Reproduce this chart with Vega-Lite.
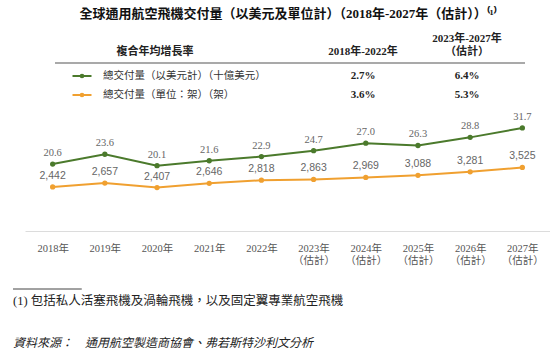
{
  "$schema": "https://vega.github.io/schema/vega-lite/v6.json",
  "padding": {"top": 8, "left": 0, "right": 0, "bottom": 0},
  "background": "white",
  "title": {
    "text": "全球通用航空飛機交付量（以美元及單位計）（2018年-2027年（估計））⁽¹⁾",
    "font": "Liberation Serif, Noto Sans CJK TC",
    "fontSize": 13,
    "fontWeight": "bold",
    "color": "#111",
    "anchor": "middle",
    "dx": 13,
    "offset": 11
  },
  "datasets": {
    "header": [
      {"row": "h", "col": "label", "line": 2, "text": "複合年均增長率"},
      {"row": "h", "col": "c1", "line": 2, "text": "2018年-2022年"},
      {"row": "h", "col": "c2", "line": 1, "text": "2023年-2027年"},
      {"row": "h", "col": "c2", "line": 2, "text": "（估計）"}
    ],
    "cagr": [
      {"row": "r1", "series": "value", "name": "總交付量（以美元計）（十億美元）", "c1": "2.7%", "c2": "6.4%"},
      {"row": "r2", "series": "units", "name": "總交付量（單位：架）（架）", "c1": "3.6%", "c2": "5.3%"}
    ],
    "deliveries": [
      {"year": "2018", "value_bn": 20.6, "units": 2442},
      {"year": "2019", "value_bn": 23.6, "units": 2657},
      {"year": "2020", "value_bn": 20.1, "units": 2407},
      {"year": "2021", "value_bn": 21.6, "units": 2646},
      {"year": "2022", "value_bn": 22.9, "units": 2818},
      {"year": "2023", "value_bn": 24.7, "units": 2863},
      {"year": "2024", "value_bn": 27.0, "units": 2969},
      {"year": "2025", "value_bn": 26.3, "units": 3088},
      {"year": "2026", "value_bn": 28.8, "units": 3281},
      {"year": "2027", "value_bn": 31.7, "units": 3525}
    ],
    "notes": [
      {"row": "note", "text": "(1)   包括私人活塞飛機及渦輪飛機，以及固定翼專業航空飛機"},
      {"row": "source", "text": "資料來源：　通用航空製造商協會、弗若斯特沙利文分析"}
    ]
  },
  "bounds": "flush",
  "spacing": 8,
  "vconcat": [
    {
      "width": 550,
      "height": 72,
      "encoding": {
        "y": {"field": "row", "type": "nominal", "scale": {"type": "point", "domain": ["h", "r1", "r2"], "range": [25, 63], "padding": 0}, "axis": null}
      },
      "layer": [
        {
          "data": {"values": [{"row": "h"}]},
          "mark": {"type": "rule", "color": "#555", "strokeWidth": 1.2, "yOffset": 6},
          "encoding": {
            "x": {"datum": 0, "type": "quantitative", "scale": {"domain": [0, 1], "range": [55, 525], "nice": false, "zero": false}, "axis": null},
            "x2": {"datum": 1}
          }
        },
        {
          "data": {"name": "header"},
          "transform": [{"filter": "datum.line === 2"}],
          "mark": {"type": "text", "baseline": "bottom", "fontWeight": "bold", "fontSize": 11, "font": "Liberation Serif, Noto Sans CJK TC", "color": "#222"},
          "encoding": {
            "x": {"field": "col", "type": "nominal", "scale": {"type": "point", "domain": ["label", "gap", "c1", "c2"], "range": [155, 467], "padding": 0}, "axis": null},
            "text": {"field": "text"}
          }
        },
        {
          "data": {"name": "header"},
          "transform": [{"filter": "datum.line === 1"}],
          "mark": {"type": "text", "baseline": "bottom", "dy": -13, "fontWeight": "bold", "fontSize": 11, "font": "Liberation Serif, Noto Sans CJK TC", "color": "#222"},
          "encoding": {
            "x": {"field": "col", "type": "nominal", "scale": {"type": "point", "domain": ["label", "gap", "c1", "c2"], "range": [155, 467], "padding": 0}, "axis": null},
            "text": {"field": "text"}
          }
        },
        {
          "data": {"name": "cagr"},
          "mark": {"type": "point", "shape": "M-1,0L1,0", "size": 361, "strokeWidth": 2, "filled": false, "opacity": 1, "xOffset": -73},
          "encoding": {
            "x": {"datum": "label", "type": "nominal", "scale": {"type": "point", "domain": ["label", "gap", "c1", "c2"], "range": [155, 467], "padding": 0}, "axis": null},
            "color": {"field": "series", "type": "nominal", "scale": {"domain": ["value", "units"], "range": ["#4b7a2c", "#f0a030"]}, "legend": null}
          }
        },
        {
          "data": {"name": "cagr"},
          "mark": {"type": "point", "shape": "circle", "size": 22, "filled": true, "opacity": 1, "xOffset": -73},
          "encoding": {
            "x": {"datum": "label", "type": "nominal", "scale": {"type": "point", "domain": ["label", "gap", "c1", "c2"], "range": [155, 467], "padding": 0}, "axis": null},
            "color": {"field": "series", "type": "nominal", "scale": {"domain": ["value", "units"], "range": ["#4b7a2c", "#f0a030"]}, "legend": null}
          }
        },
        {
          "data": {"name": "cagr"},
          "mark": {"type": "text", "align": "left", "dx": -52, "baseline": "middle", "fontSize": 10.5, "font": "Noto Sans CJK TC", "color": "#333"},
          "encoding": {
            "x": {"datum": "label", "type": "nominal", "scale": {"type": "point", "domain": ["label", "gap", "c1", "c2"], "range": [155, 467], "padding": 0}, "axis": null},
            "text": {"field": "name"}
          }
        },
        {
          "data": {"name": "cagr"},
          "mark": {"type": "text", "baseline": "middle", "fontSize": 11, "fontWeight": "bold", "font": "Liberation Serif", "color": "#222"},
          "encoding": {
            "x": {"datum": "c1", "type": "nominal", "scale": {"type": "point", "domain": ["label", "gap", "c1", "c2"], "range": [155, 467], "padding": 0}, "axis": null},
            "text": {"field": "c1"}
          }
        },
        {
          "data": {"name": "cagr"},
          "mark": {"type": "text", "baseline": "middle", "fontSize": 11, "fontWeight": "bold", "font": "Liberation Serif", "color": "#222"},
          "encoding": {
            "x": {"datum": "c2", "type": "nominal", "scale": {"type": "point", "domain": ["label", "gap", "c1", "c2"], "range": [155, 467], "padding": 0}, "axis": null},
            "text": {"field": "c2"}
          }
        }
      ],
      "resolve": {"scale": {"x": "independent"}}
    },
    {
      "width": 550,
      "height": 119,
      "data": {"name": "deliveries"},
      "encoding": {
        "x": {
          "field": "year",
          "type": "ordinal",
          "scale": {"type": "point", "domain": ["2018", "2019", "2020", "2021", "2022", "2023", "2024", "2025", "2026", "2027"], "range": [25, 550], "padding": 0.53},
          "axis": {
            "title": null,
            "domain": true,
            "domainColor": "#dcdcdc",
            "domainWidth": 1,
            "ticks": false,
            "grid": false,
            "labelAngle": 0,
            "labelExpr": "toNumber(datum.value) >= 2023 ? [datum.label + '年', '（估計）'] : datum.label + '年'",
            "labelFont": "Liberation Serif, Noto Sans CJK TC",
            "labelFontSize": 10.5,
            "labelColor": "#555",
            "labelPadding": 12,
            "labelLineHeight": 12
          }
        }
      },
      "layer": [
        {
          "mark": {"type": "line", "color": "#4b7a2c", "strokeWidth": 2, "point": {"filled": true, "size": 28, "color": "#4b7a2c"}},
          "encoding": {
            "y": {"field": "value_bn", "type": "quantitative", "scale": {"domain": [0, 36.6], "nice": false}, "axis": null}
          }
        },
        {
          "mark": {"type": "text", "dy": -11, "font": "Liberation Serif", "fontSize": 10.5, "color": "#666"},
          "encoding": {
            "y": {"field": "value_bn", "type": "quantitative", "scale": {"domain": [0, 36.6], "nice": false}, "axis": null},
            "text": {"field": "value_bn", "type": "quantitative", "format": ".1f"}
          }
        },
        {
          "mark": {"type": "line", "color": "#f0a030", "strokeWidth": 2, "point": {"filled": true, "size": 28, "color": "#f0a030"}},
          "encoding": {
            "y": {"field": "units", "type": "quantitative", "scale": {"domain": [0, 6600], "nice": false}, "axis": null}
          }
        },
        {
          "mark": {"type": "text", "dy": -11, "font": "Liberation Sans", "fontSize": 10.5, "color": "#666"},
          "encoding": {
            "y": {"field": "units", "type": "quantitative", "scale": {"domain": [0, 6600], "nice": false}, "axis": null},
            "text": {"field": "units", "type": "quantitative", "format": ","}
          }
        }
      ],
      "resolve": {"scale": {"y": "independent"}}
    },
    {
      "width": 550,
      "height": 120,
      "encoding": {
        "x": {"datum": 0, "type": "quantitative", "scale": {"domain": [0, 1], "range": [13, 563], "nice": false, "zero": false}, "axis": null},
        "y": {"field": "row", "type": "nominal", "scale": {"type": "point", "domain": ["note", "source"], "range": [62, 104], "padding": 0}, "axis": null}
      },
      "layer": [
        {
          "data": {"values": [{"row": "note"}]},
          "mark": {"type": "rule", "color": "#444", "strokeWidth": 1, "yOffset": -12},
          "encoding": {
            "x2": {"datum": 0.125}
          }
        },
        {
          "data": {"name": "notes"},
          "transform": [{"filter": "datum.row === 'note'"}],
          "mark": {"type": "text", "align": "left", "baseline": "middle", "font": "Liberation Serif, Noto Sans CJK TC", "fontSize": 12.5, "color": "#222"},
          "encoding": {"text": {"field": "text"}}
        },
        {
          "data": {"name": "notes"},
          "transform": [{"filter": "datum.row === 'source'"}],
          "mark": {"type": "text", "align": "left", "baseline": "middle", "font": "Noto Sans CJK TC", "fontSize": 12, "fontStyle": "italic", "color": "#222"},
          "encoding": {"text": {"field": "text"}}
        }
      ]
    }
  ],
  "config": {
    "view": {"stroke": null}
  }
}
